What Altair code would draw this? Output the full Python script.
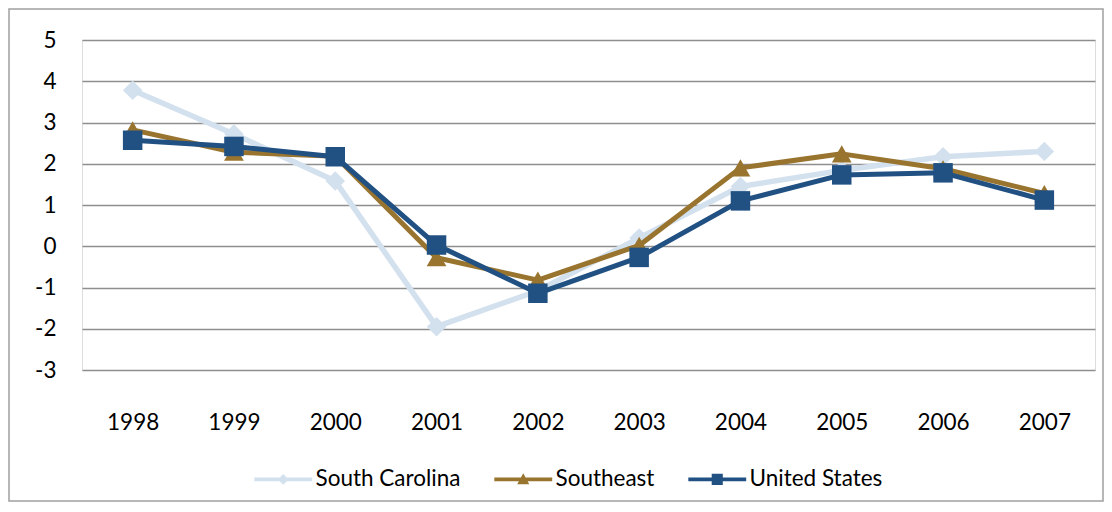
import altair as alt
import pandas as pd

years = ["1998", "1999", "2000", "2001", "2002", "2003", "2004", "2005", "2006", "2007"]
south_carolina = [3.78, 2.72, 1.58, -1.95, -1.08, 0.20, 1.45, 1.84, 2.17, 2.30]
southeast = [2.82, 2.28, 2.18, -0.28, -0.82, 0.02, 1.90, 2.24, 1.88, 1.28]
united_states = [2.57, 2.42, 2.17, 0.03, -1.14, -0.27, 1.10, 1.73, 1.78, 1.12]
series_names = ["South Carolina", "Southeast", "United States"]
series_colors = ["#D3E0EE", "#98742F", "#215082"]
y_ticks = [-3, -2, -1, 0, 1, 2, 3, 4, 5]

rows = []
for name, vals in zip(series_names, [south_carolina, southeast, united_states]):
    for yr, v in zip(years, vals):
        rows.append({"year": yr, "value": v, "series": name})
df = pd.DataFrame(rows)

FONT = "Lato"
FS = 22.5
W, H = 1013, 330

x_enc = alt.X("year:N", sort=years, title=None,
              scale=alt.Scale(type="point", padding=0.5),
              axis=alt.Axis(labelAngle=0, labelFontSize=FS, labelFont=FONT, labelColor="#000000",
                            ticks=False, tickSize=0, domain=False, grid=False,
                            labelPadding=52, labelBaseline="middle"))
y_enc = alt.Y("value:Q", title=None,
              scale=alt.Scale(domain=[-3, 5], nice=False, zero=False),
              axis=alt.Axis(values=y_ticks, labelFontSize=FS, labelFont=FONT, labelColor="#000000",
                            ticks=False, tickSize=0, domain=False, grid=True,
                            labelExpr="datum.value < 0 ? '-' + abs(datum.value) : '' + datum.value",
                            gridColor="#8E8E8E", gridWidth=1.6, labelPadding=26))

base = alt.Chart(df)

markers = {
    "South Carolina": dict(shape="diamond", size=380),
    "Southeast": dict(shape="triangle-up", size=390),
    "United States": dict(shape="square", size=380),
}
widths = {"South Carolina": 5.5, "Southeast": 5, "United States": 5}

layers = []
for name, col in zip(series_names, series_colors):
    sub = base.transform_filter(alt.datum.series == name)
    line = sub.mark_line(strokeWidth=widths[name], color=col, strokeJoin="round").encode(x=x_enc, y=y_enc)
    pts = sub.mark_point(filled=True, opacity=1, color=col, **markers[name]).encode(x=x_enc, y=y_enc)
    layers += [line, pts]

leg_paths = [
    "M-6,-0.4 H6 V0.4 H-6 Z M0,-1.1 L1.1,0 L0,1.1 L-1.1,0 Z",
    "M-6,-0.4 H6 V0.4 H-6 Z M0,-1.25 L1.25,1.0 L-1.25,1.0 Z",
    "M-6,-0.4 H6 V0.4 H-6 Z M-1.15,-1.15 H1.15 V1.15 H-1.15 Z",
]
legend_layer = base.transform_filter("false").mark_point(filled=True, opacity=1, size=93).encode(
    x=x_enc, y=y_enc,
    color=alt.Color("series:N", scale=alt.Scale(domain=series_names, range=series_colors),
                    legend=alt.Legend(title=None, orient="none", direction="horizontal",
                                      legendX=190, legendY=428, columnPadding=33,
                                      labelOffset=21, symbolSize=93, symbolStrokeWidth=0,
                                      labelFontSize=FS, labelFont=FONT, labelColor="#000000",
                                      padding=0)),
    shape=alt.Shape("series:N", scale=alt.Scale(domain=series_names, range=leg_paths), legend=None),
)

frame = alt.Chart(pd.DataFrame({"a": [0]})).mark_rect(fill="transparent", stroke="#A0A0A0", strokeWidth=1.5).encode(
    x=alt.value(-73), x2=alt.value(W + 8), y=alt.value(-31), y2=alt.value(H + 131)
)

chart = alt.layer(frame, *layers, legend_layer).properties(
    width=W, height=H,
    autosize=alt.AutoSizeParams(type="none"),
    padding={"left": 74, "top": 32, "right": 9, "bottom": 132},
).configure_view(stroke=None).configure(background="#FFFFFF")

chart.save("out.html", embed_options={"renderer": "svg", "actions": False})
